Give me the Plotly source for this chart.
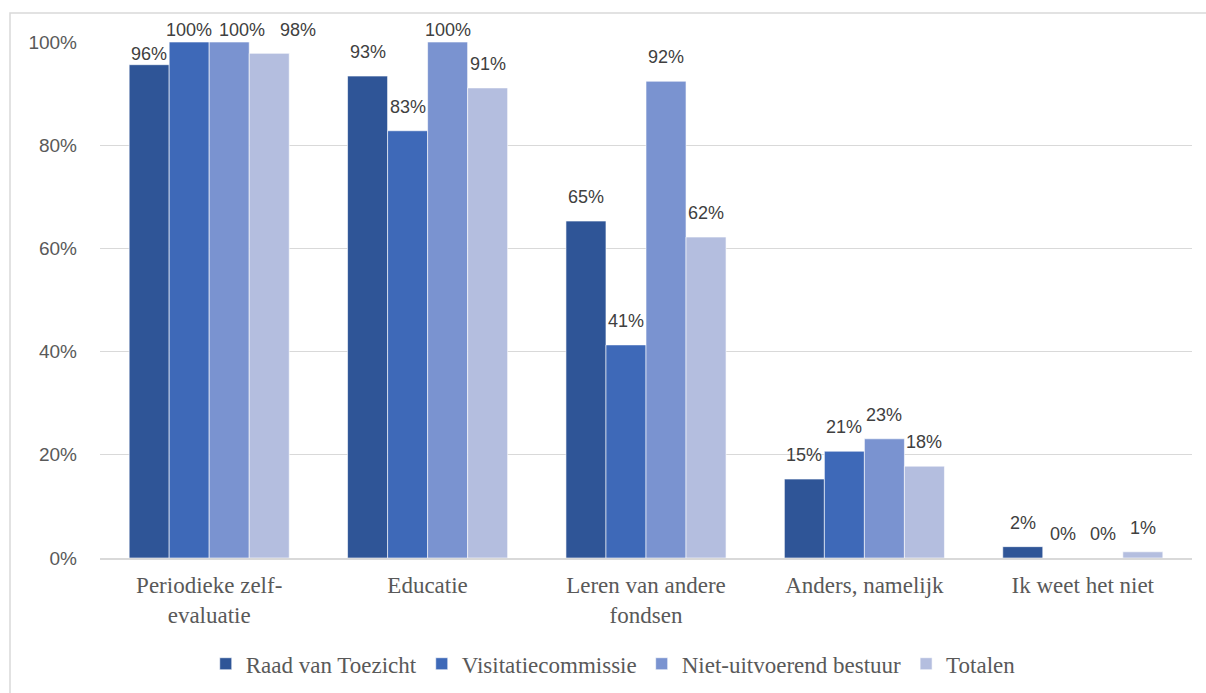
import plotly.graph_objects as go

categories = ["Periodieke zelf-<br>evaluatie", "Educatie", "Leren van andere<br>fondsen",
              "Anders, namelijk", "Ik weet het niet"]
series_names = ["Raad van Toezicht", "Visitatiecommissie", "Niet-uitvoerend bestuur", "Totalen"]
raad = [95.6, 93.4, 65.3, 15.3, 2.2]
visitatie = [100, 82.8, 41.3, 20.7, 0]
niet_uitvoerend = [100, 100, 92.4, 23.1, 0]
totalen = [97.8, 91.1, 62.2, 17.8, 1.2]
series_values = [raad, visitatie, niet_uitvoerend, totalen]
colors = ["#2F5597", "#3E69B8", "#7A93D0", "#B4BEDF"]
tick_vals = [0, 20, 40, 60, 80, 100]
tick_text = ["0%", "20%", "40%", "60%", "80%", "100%"]

fig = go.Figure()
for name, vals, col in zip(series_names, series_values, colors):
    fig.add_trace(go.Bar(
        x=categories, y=vals, name=name,
        marker=dict(color=col, line=dict(width=0.6, color="#FFFFFF")),
        cliponaxis=False,
    ))

# data labels placed above each bar (bar width 40 px within a group of 4)
bar_px = 40
px_per_unit = 516 / 100
x_nudge = {(0, 2): 13, (0, 3): 29}   # labels nudged right in first group, as in the reference
y_override = {(0, 0): 11}
for si, vals in enumerate(series_values):
    for ci, (cat, v) in enumerate(zip(categories, vals)):
        ys = min(24, 12 + (100 - v) * px_per_unit)
        ys = y_override.get((ci, si), ys)
        fig.add_annotation(
            x=cat, y=v, xref="x", yref="y",
            text=f"{round(v)}%", showarrow=False,
            xshift=(si - 1.5) * bar_px + x_nudge.get((ci, si), 0),
            yshift=ys, yanchor="middle", xanchor="center",
            font=dict(family="Liberation Sans, Arial, sans-serif", size=18, color="#404040"),
        )

fig.update_layout(
    width=1206, height=693,
    margin=dict(l=100, r=14, t=42, b=135, autoexpand=False),
    paper_bgcolor="white", plot_bgcolor="white",
    barmode="group", bargap=0.267, bargroupgap=0,
    showlegend=True,
    legend=dict(orientation="h", x=0.47, xanchor="center", y=-0.205, yanchor="middle",
                font=dict(family="Liberation Serif, Times New Roman, serif", size=23, color="#595959"),
                itemwidth=30, traceorder="normal"),
    yaxis=dict(range=[0, 100], tickvals=tick_vals, ticktext=tick_text,
               showgrid=True, gridcolor="#D9D9D9", gridwidth=1,
               zeroline=False, showline=False, ticks="", automargin=False,
               ticklabelstandoff=22,
               tickfont=dict(family="Liberation Sans, Arial, sans-serif", size=19, color="#595959")),
    xaxis=dict(showline=True, linecolor="#D9D9D9", linewidth=1.5, ticks="", automargin=False,
               ticklabelstandoff=6,
               tickfont=dict(family="Liberation Serif, Times New Roman, serif", size=23, color="#595959")),
    shapes=[dict(type="rect", xref="paper", yref="paper",
                 x0=(10 - 100) / 1092, x1=1.05, y0=-0.35, y1=(558 - 13) / 516,
                 line=dict(color="#D9D9D9", width=1.5), layer="below")],
)

fig.write_html("out.html")
